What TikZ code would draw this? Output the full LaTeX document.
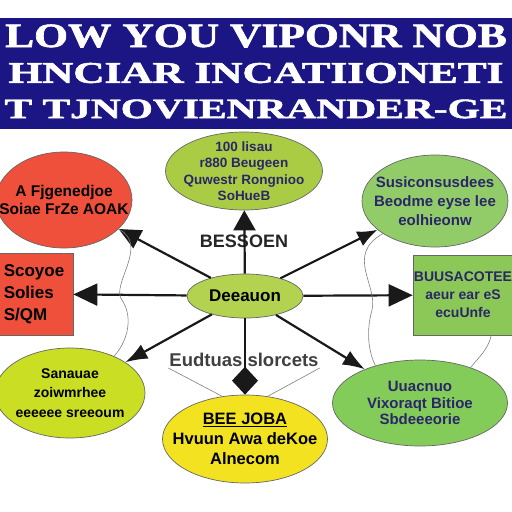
\documentclass[tikz,border=0pt]{standalone}
\usepackage{fontspec}
\usepackage{graphicx}
\setmainfont{Liberation Sans}
\newfontfamily\titlefont[FakeBold=1.6]{Liberation Serif}
\usetikzlibrary{arrows.meta,shapes.geometric}

\definecolor{cNavy}{RGB}{28,22,132}
\definecolor{cInk}{RGB}{42,38,104}
\definecolor{cRed}{RGB}{238,80,60}
\definecolor{cOlive}{RGB}{170,204,68}
\definecolor{cLeaf}{RGB}{146,204,104}
\definecolor{cGrass}{RGB}{140,200,88}
\definecolor{cLime}{RGB}{202,222,36}
\definecolor{cSun}{RGB}{242,226,32}
\definecolor{cMint}{RGB}{132,204,90}
\definecolor{cPea}{RGB}{178,210,80}

\begin{document}
\begin{tikzpicture}[
    x=1pt,
    y=-1pt,
    oval/.style={ellipse, draw=black!60, line width=0.7pt, inner sep=-22pt, align=center,
        font=\bfseries\fontsize{13.5}{16.5}\selectfont},
    panel/.style={rectangle, draw=black!60, line width=0.7pt, inner sep=-22pt, align=center,
        font=\bfseries\fontsize{13}{17}\selectfont},
    head/.style={white, inner sep=0pt, font=\titlefont\bfseries},
    lbl/.style={font=\bfseries\fontsize{18}{19}\selectfont, inner sep=1pt},
    link/.style={line width=2.2pt, black!90},
    wire/.style={gray, line width=0.6pt}
]
\useasboundingbox (0,0) rectangle (512,512);
\clip (0,0) rectangle (512,512);
\fill[white] (0,0) rectangle (512,512);
\fill[cNavy] (0,18) rectangle (512,129);

\node[head, font=\titlefont\bfseries\fontsize{34}{34}\selectfont] (head1) at (256,36) {\scalebox{1.28}[1]{LOW YOU VIPONR NOB}};
\node[head, font=\titlefont\bfseries\fontsize{30}{30}\selectfont] (head2) at (256,73) {\scalebox{1.44}[1]{HNCIAR INCATIIONETI}};
\node[head, font=\titlefont\bfseries\fontsize{28}{28}\selectfont] (head3) at (256,109) {\scalebox{1.48}[1]{T TJNOVIENRANDER-GE}};

\node[oval, fill=cRed, minimum width=136, minimum height=96,
    font=\bfseries\fontsize{15.5}{18}\selectfont] (fears) at (64,200) {A Fjgenedjoe\\Soiae FrZe AOAK};
\node[panel, fill=cRed, minimum width=78, minimum height=82, align=left,
    font=\bfseries\fontsize{17}{22}\selectfont] (costs) at (34,294) {Scoyoe\\Solies\\S/QM};
\node[oval, fill=cOlive, text=cInk, minimum width=157, minimum height=78] (goals) at (244,171) {100 lisau\\r880 Beugeen\\Quwestr Rongnioo\\SoHueB};
\node[oval, fill=cLeaf, text=cInk, minimum width=146, minimum height=92,
    font=\bfseries\fontsize{15}{19}\selectfont] (skills) at (435,201) {Susiconsusdees\\Beodme eyse lee\\eolhieonw};
\node[panel, fill=cGrass, text=cInk, minimum width=100, minimum height=80,
    font=\bfseries\fontsize{14}{18}\selectfont] (tools) at (463,295) {BUUSACOTEE\\aeur ear eS\\ecuUnfe};
\node[oval, fill=cPea, minimum width=116, minimum height=44,
    font=\bfseries\fontsize{17}{18}\selectfont] (core) at (245,296) {Deeauon};
\node[oval, fill=cLime, minimum width=150, minimum height=90,
    font=\bfseries\fontsize{14}{19.5}\selectfont] (habits) at (70,393) {Sanauae\\zoiwmrhee\\eeeeee sreeoum};
\node[oval, fill=cSun, minimum width=165, minimum height=88,
    font=\bfseries\fontsize{16.5}{20}\selectfont] (plans) at (245,439) {\underline{BEE JOBA}\\Hvuun Awa deKoe\\Alnecom};
\node[oval, fill=cMint, text=cInk, minimum width=175, minimum height=86,
    font=\bfseries\fontsize{15}{16.5}\selectfont] (growth) at (420,403) {Uuacnuo\\Vixoraqt Bitioe\\Sbdeeeorie};

\node[lbl, text=black!85] (upper) at (244,241) {BESSOEN};
\node[lbl, text=black!75, font=\bfseries\fontsize{18.5}{19}\selectfont] (lower) at (244,360) {Eudtuas slorcets};

\draw[link, -{Triangle[length=22pt,width=20pt]}] (core) -- (fears);
\draw[link, -{Triangle[length=24pt,width=22pt]}] (core) -- (costs);
\draw[link, -{Triangle[length=20pt,width=22pt]}] (core) -- (goals);
\draw[link, -{Latex[length=20pt,width=16pt]}] (core) -- (skills);
\draw[link, -{Triangle[length=24pt,width=22pt]}] (core) -- (tools);
\draw[link, -{Latex[length=22pt,width=16pt]}] (core) -- (habits);
\draw[link, -{Latex[length=22pt,width=16pt]}] (core) -- (growth);
\draw[link, -{Diamond[length=28pt,width=26pt]}] (core) -- (plans);

\draw[wire] (fears.-28) .. controls (150,245) and (110,285) .. (122,300)
    .. controls (135,320) and (125,345) .. (habits.40);
\draw[wire] (skills.-148) .. controls (345,255) and (378,285) .. (372,310)
    .. controls (365,335) and (370,355) .. (growth.140);
\draw[wire] (tools.-55) .. controls (488,350) and (478,358) .. (growth.35);
\draw[wire] (lower.south west) -- (plans.118);
\draw[wire] (lower.south east) -- (plans.62);
\end{tikzpicture}
\end{document}
